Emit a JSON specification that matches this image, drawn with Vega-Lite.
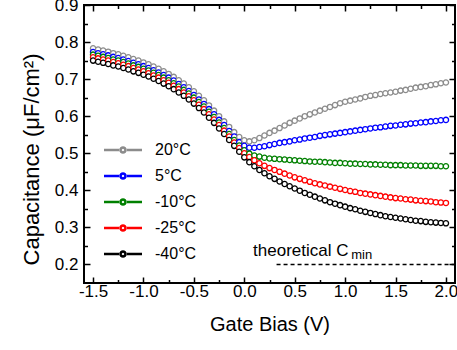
{
  "$schema": "https://vega.github.io/schema/vega-lite/v6.json",
  "width": 371,
  "height": 278,
  "autosize": {"type": "none"},
  "padding": {"left": 84, "top": 5, "right": 2, "bottom": 67},
  "config": {
    "font": "Liberation Sans",
    "view": {"stroke": "black", "strokeWidth": 2},
    "axis": {"grid": false, "domain": false, "tickColor": "black", "tickWidth": 1.5, "labelColor": "black", "titleColor": "black", "titleFontWeight": "normal"},
    "text": {"font": "Liberation Sans"}
  },
  "datasets": {
    "cv": [
      {"V": -1.5, "20°C": 0.783, "5°C": 0.773, "-10°C": 0.766, "-25°C": 0.759, "-40°C": 0.750},
      {"V": -1.45, "20°C": 0.780, "5°C": 0.770, "-10°C": 0.763, "-25°C": 0.756, "-40°C": 0.747},
      {"V": -1.4, "20°C": 0.777, "5°C": 0.767, "-10°C": 0.760, "-25°C": 0.753, "-40°C": 0.744},
      {"V": -1.35, "20°C": 0.774, "5°C": 0.764, "-10°C": 0.757, "-25°C": 0.750, "-40°C": 0.741},
      {"V": -1.3, "20°C": 0.770, "5°C": 0.760, "-10°C": 0.753, "-25°C": 0.746, "-40°C": 0.737},
      {"V": -1.25, "20°C": 0.767, "5°C": 0.757, "-10°C": 0.750, "-25°C": 0.743, "-40°C": 0.734},
      {"V": -1.2, "20°C": 0.763, "5°C": 0.753, "-10°C": 0.746, "-25°C": 0.739, "-40°C": 0.730},
      {"V": -1.15, "20°C": 0.759, "5°C": 0.749, "-10°C": 0.742, "-25°C": 0.735, "-40°C": 0.726},
      {"V": -1.1, "20°C": 0.754, "5°C": 0.744, "-10°C": 0.737, "-25°C": 0.730, "-40°C": 0.721},
      {"V": -1.05, "20°C": 0.750, "5°C": 0.740, "-10°C": 0.733, "-25°C": 0.726, "-40°C": 0.717},
      {"V": -1.0, "20°C": 0.745, "5°C": 0.735, "-10°C": 0.728, "-25°C": 0.721, "-40°C": 0.712},
      {"V": -0.95, "20°C": 0.740, "5°C": 0.730, "-10°C": 0.723, "-25°C": 0.716, "-40°C": 0.707},
      {"V": -0.9, "20°C": 0.734, "5°C": 0.724, "-10°C": 0.717, "-25°C": 0.710, "-40°C": 0.701},
      {"V": -0.85, "20°C": 0.728, "5°C": 0.718, "-10°C": 0.711, "-25°C": 0.704, "-40°C": 0.695},
      {"V": -0.8, "20°C": 0.721, "5°C": 0.711, "-10°C": 0.704, "-25°C": 0.697, "-40°C": 0.688},
      {"V": -0.75, "20°C": 0.714, "5°C": 0.704, "-10°C": 0.697, "-25°C": 0.690, "-40°C": 0.681},
      {"V": -0.7, "20°C": 0.706, "5°C": 0.696, "-10°C": 0.689, "-25°C": 0.682, "-40°C": 0.673},
      {"V": -0.65, "20°C": 0.697, "5°C": 0.687, "-10°C": 0.680, "-25°C": 0.673, "-40°C": 0.664},
      {"V": -0.6, "20°C": 0.688, "5°C": 0.678, "-10°C": 0.671, "-25°C": 0.664, "-40°C": 0.655},
      {"V": -0.55, "20°C": 0.678, "5°C": 0.668, "-10°C": 0.661, "-25°C": 0.654, "-40°C": 0.645},
      {"V": -0.5, "20°C": 0.667, "5°C": 0.657, "-10°C": 0.650, "-25°C": 0.643, "-40°C": 0.634},
      {"V": -0.45, "20°C": 0.655, "5°C": 0.645, "-10°C": 0.638, "-25°C": 0.631, "-40°C": 0.622},
      {"V": -0.4, "20°C": 0.643, "5°C": 0.633, "-10°C": 0.626, "-25°C": 0.619, "-40°C": 0.610},
      {"V": -0.35, "20°C": 0.629, "5°C": 0.619, "-10°C": 0.612, "-25°C": 0.605, "-40°C": 0.596},
      {"V": -0.3, "20°C": 0.615, "5°C": 0.605, "-10°C": 0.598, "-25°C": 0.591, "-40°C": 0.582},
      {"V": -0.25, "20°C": 0.600, "5°C": 0.590, "-10°C": 0.583, "-25°C": 0.576, "-40°C": 0.567},
      {"V": -0.2, "20°C": 0.586, "5°C": 0.576, "-10°C": 0.568, "-25°C": 0.561, "-40°C": 0.552},
      {"V": -0.15, "20°C": 0.571, "5°C": 0.560, "-10°C": 0.552, "-25°C": 0.545, "-40°C": 0.536},
      {"V": -0.1, "20°C": 0.557, "5°C": 0.545, "-10°C": 0.536, "-25°C": 0.529, "-40°C": 0.520},
      {"V": -0.05, "20°C": 0.544, "5°C": 0.530, "-10°C": 0.521, "-25°C": 0.514, "-40°C": 0.504},
      {"V": 0.0, "20°C": 0.535, "5°C": 0.520, "-10°C": 0.508, "-25°C": 0.500, "-40°C": 0.489},
      {"V": 0.05, "20°C": 0.532, "5°C": 0.515, "-10°C": 0.499, "-25°C": 0.490, "-40°C": 0.476},
      {"V": 0.1, "20°C": 0.535, "5°C": 0.515, "-10°C": 0.494, "-25°C": 0.481, "-40°C": 0.465},
      {"V": 0.15, "20°C": 0.541, "5°C": 0.517, "-10°C": 0.491, "-25°C": 0.473, "-40°C": 0.455},
      {"V": 0.2, "20°C": 0.548, "5°C": 0.519, "-10°C": 0.488, "-25°C": 0.466, "-40°C": 0.446},
      {"V": 0.25, "20°C": 0.555, "5°C": 0.522, "-10°C": 0.486, "-25°C": 0.460, "-40°C": 0.438},
      {"V": 0.3, "20°C": 0.561, "5°C": 0.525, "-10°C": 0.485, "-25°C": 0.455, "-40°C": 0.431},
      {"V": 0.35, "20°C": 0.568, "5°C": 0.528, "-10°C": 0.484, "-25°C": 0.450, "-40°C": 0.424},
      {"V": 0.4, "20°C": 0.575, "5°C": 0.530, "-10°C": 0.483, "-25°C": 0.445, "-40°C": 0.417},
      {"V": 0.45, "20°C": 0.582, "5°C": 0.532, "-10°C": 0.482, "-25°C": 0.440, "-40°C": 0.411},
      {"V": 0.5, "20°C": 0.588, "5°C": 0.535, "-10°C": 0.481, "-25°C": 0.435, "-40°C": 0.405},
      {"V": 0.55, "20°C": 0.594, "5°C": 0.537, "-10°C": 0.480, "-25°C": 0.431, "-40°C": 0.399},
      {"V": 0.6, "20°C": 0.600, "5°C": 0.540, "-10°C": 0.479, "-25°C": 0.427, "-40°C": 0.393},
      {"V": 0.65, "20°C": 0.605, "5°C": 0.542, "-10°C": 0.478, "-25°C": 0.423, "-40°C": 0.388},
      {"V": 0.7, "20°C": 0.610, "5°C": 0.544, "-10°C": 0.477, "-25°C": 0.419, "-40°C": 0.383},
      {"V": 0.75, "20°C": 0.615, "5°C": 0.547, "-10°C": 0.477, "-25°C": 0.416, "-40°C": 0.378},
      {"V": 0.8, "20°C": 0.620, "5°C": 0.549, "-10°C": 0.476, "-25°C": 0.413, "-40°C": 0.373},
      {"V": 0.85, "20°C": 0.625, "5°C": 0.551, "-10°C": 0.475, "-25°C": 0.410, "-40°C": 0.368},
      {"V": 0.9, "20°C": 0.630, "5°C": 0.553, "-10°C": 0.474, "-25°C": 0.407, "-40°C": 0.364},
      {"V": 0.95, "20°C": 0.635, "5°C": 0.555, "-10°C": 0.474, "-25°C": 0.404, "-40°C": 0.360},
      {"V": 1.0, "20°C": 0.639, "5°C": 0.557, "-10°C": 0.473, "-25°C": 0.401, "-40°C": 0.356},
      {"V": 1.05, "20°C": 0.642, "5°C": 0.559, "-10°C": 0.472, "-25°C": 0.398, "-40°C": 0.352},
      {"V": 1.1, "20°C": 0.645, "5°C": 0.561, "-10°C": 0.472, "-25°C": 0.396, "-40°C": 0.349},
      {"V": 1.15, "20°C": 0.648, "5°C": 0.563, "-10°C": 0.471, "-25°C": 0.393, "-40°C": 0.345},
      {"V": 1.2, "20°C": 0.652, "5°C": 0.565, "-10°C": 0.471, "-25°C": 0.391, "-40°C": 0.342},
      {"V": 1.25, "20°C": 0.655, "5°C": 0.567, "-10°C": 0.470, "-25°C": 0.389, "-40°C": 0.339},
      {"V": 1.3, "20°C": 0.657, "5°C": 0.569, "-10°C": 0.470, "-25°C": 0.387, "-40°C": 0.336},
      {"V": 1.35, "20°C": 0.660, "5°C": 0.570, "-10°C": 0.469, "-25°C": 0.385, "-40°C": 0.333},
      {"V": 1.4, "20°C": 0.662, "5°C": 0.572, "-10°C": 0.469, "-25°C": 0.383, "-40°C": 0.330},
      {"V": 1.45, "20°C": 0.664, "5°C": 0.574, "-10°C": 0.468, "-25°C": 0.381, "-40°C": 0.328},
      {"V": 1.5, "20°C": 0.666, "5°C": 0.575, "-10°C": 0.468, "-25°C": 0.379, "-40°C": 0.326},
      {"V": 1.55, "20°C": 0.669, "5°C": 0.577, "-10°C": 0.468, "-25°C": 0.378, "-40°C": 0.324},
      {"V": 1.6, "20°C": 0.671, "5°C": 0.578, "-10°C": 0.467, "-25°C": 0.376, "-40°C": 0.322},
      {"V": 1.65, "20°C": 0.674, "5°C": 0.580, "-10°C": 0.467, "-25°C": 0.375, "-40°C": 0.320},
      {"V": 1.7, "20°C": 0.677, "5°C": 0.581, "-10°C": 0.467, "-25°C": 0.373, "-40°C": 0.318},
      {"V": 1.75, "20°C": 0.679, "5°C": 0.583, "-10°C": 0.466, "-25°C": 0.372, "-40°C": 0.317},
      {"V": 1.8, "20°C": 0.681, "5°C": 0.584, "-10°C": 0.466, "-25°C": 0.371, "-40°C": 0.315},
      {"V": 1.85, "20°C": 0.684, "5°C": 0.586, "-10°C": 0.466, "-25°C": 0.370, "-40°C": 0.314},
      {"V": 1.9, "20°C": 0.686, "5°C": 0.587, "-10°C": 0.466, "-25°C": 0.368, "-40°C": 0.313},
      {"V": 1.95, "20°C": 0.689, "5°C": 0.589, "-10°C": 0.465, "-25°C": 0.367, "-40°C": 0.312},
      {"V": 2.0, "20°C": 0.691, "5°C": 0.590, "-10°C": 0.465, "-25°C": 0.366, "-40°C": 0.311}
    ]
  },
  "layer": [
    {
      "data": {"name": "cv"},
      "transform": [{"fold": ["20°C", "5°C", "-10°C", "-25°C", "-40°C"], "as": ["T", "C"]}],
      "mark": {"type": "line", "strokeWidth": 1.5},
      "encoding": {
        "x": {"field": "V", "type": "quantitative", "scale": {"domain": [-1.59, 2.09], "nice": false, "zero": false},
          "axis": {"orient": "bottom", "values": [-1.5, -1, -0.5, 0, 0.5, 1, 1.5, 2], "labelExpr": "replace(format(datum.value, '.1f'), '−', '-')", "tickSize": -6, "labelFontSize": 17, "labelPadding": 6, "title": "Gate Bias (V)", "titleFontSize": 20, "titlePadding": 15}},
        "y": {"field": "C", "type": "quantitative", "scale": {"domain": [0.15, 0.9], "nice": false, "zero": false},
          "axis": {"orient": "left", "values": [0.2, 0.3, 0.4, 0.5, 0.6, 0.7, 0.8, 0.9], "format": ".1f", "tickSize": -6, "labelFontSize": 17, "labelPadding": 12, "title": "Capacitance (μF/cm²)", "titleFontSize": 22, "titlePadding": 11, "titleY": 154}},
        "color": {"field": "T", "type": "nominal",
          "scale": {"domain": ["20°C", "5°C", "-10°C", "-25°C", "-40°C"], "range": ["#8c8c8c", "#0000ff", "#008000", "#ff0000", "#000000"]},
          "legend": {"orient": "none", "legendX": 31, "legendY": 137, "title": null,
            "symbolType": "M-3.8,0H-0.8M0.8,0H3.8M0.5,0A0.5,0.5 0 1,1 -0.5,0A0.5,0.5 0 1,1 0.5,0",
            "symbolSize": 100, "symbolStrokeWidth": 2.6, "symbolFillColor": "white",
            "labelFontSize": 16, "labelColor": "black", "labelOffset": 24, "rowPadding": 10}}
      }
    },
    {
      "data": {"name": "cv"},
      "transform": [{"fold": ["20°C", "5°C", "-10°C", "-25°C", "-40°C"], "as": ["T", "C"]}],
      "mark": {"type": "point", "shape": "circle", "filled": false, "fill": "white", "fillOpacity": 1, "opacity": 1, "size": 28, "strokeWidth": 1.3},
      "encoding": {
        "x": {"field": "V", "type": "quantitative", "axis": null},
        "y": {"field": "C", "type": "quantitative", "axis": null},
        "color": {"field": "T", "type": "nominal", "legend": null}
      }
    },
    {
      "data": {"values": [{}]},
      "mark": {"type": "rule", "strokeDash": [4, 3], "strokeWidth": 1.5, "color": "black"},
      "encoding": {
        "x": {"datum": 0.32, "type": "quantitative", "axis": {"orient": "top", "values": [-1.5, -1, -0.5, 0, 0.5, 1, 1.5, 2], "tickSize": -6, "labels": false, "title": null}},
        "x2": {"datum": 2.09},
        "y": {"datum": 0.2, "type": "quantitative", "axis": {"orient": "right", "values": [0.2, 0.3, 0.4, 0.5, 0.6, 0.7, 0.8, 0.9], "tickSize": -6, "labels": false, "title": null}}
      }
    },
    {
      "data": {"values": [{}]},
      "mark": {"type": "text", "text": "theoretical C", "align": "left", "baseline": "alphabetic", "fontSize": 17, "color": "black"},
      "encoding": {
        "x": {"datum": 0.087, "type": "quantitative", "axis": {"orient": "bottom", "values": [-1.25, -0.75, -0.25, 0.25, 0.75, 1.25, 1.75], "tickSize": -3.5, "labels": false, "title": null}},
        "y": {"datum": 0.2233, "type": "quantitative", "axis": {"orient": "left", "values": [0.25, 0.35, 0.45, 0.55, 0.65, 0.75, 0.85], "tickSize": -3.5, "labels": false, "title": null}}
      }
    },
    {
      "data": {"values": [{}]},
      "mark": {"type": "text", "text": "min", "align": "left", "baseline": "alphabetic", "fontSize": 13, "color": "black"},
      "encoding": {
        "x": {"datum": 1.06, "type": "quantitative", "axis": {"orient": "top", "values": [-1.25, -0.75, -0.25, 0.25, 0.75, 1.25, 1.75], "tickSize": -3.5, "labels": false, "title": null}},
        "y": {"datum": 0.2144, "type": "quantitative", "axis": {"orient": "right", "values": [0.25, 0.35, 0.45, 0.55, 0.65, 0.75, 0.85], "tickSize": -3.5, "labels": false, "title": null}}
      }
    }
  ],
  "resolve": {"axis": {"x": "independent", "y": "independent"}}
}
